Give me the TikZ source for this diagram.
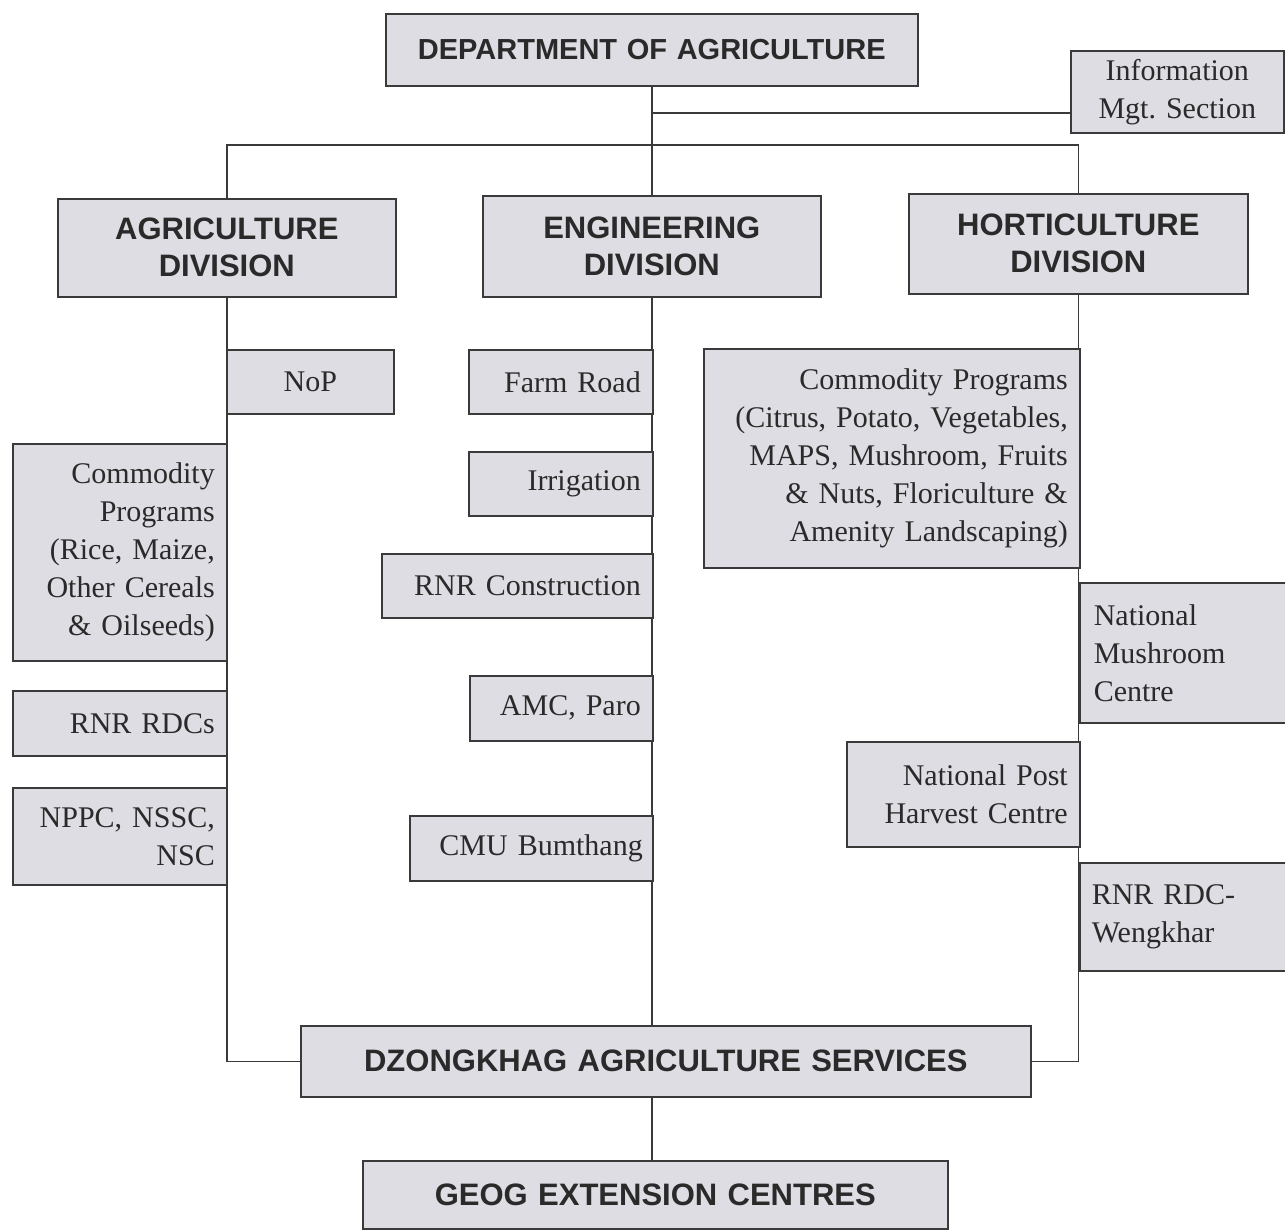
\documentclass[tikz,border=0pt]{standalone}
\usepackage{fontspec}
\setmainfont{Liberation Serif}
\newfontfamily\hdfont{Liberation Sans}
\usetikzlibrary{backgrounds}
\definecolor{boxc}{HTML}{DDDDE3}
\definecolor{linec}{HTML}{3A3A3A}
\definecolor{txtc}{HTML}{2A2A2A}
\frenchspacing
\tikzset{
  box/.style={draw=linec, fill=boxc, line width=1.6pt, anchor=north west,
    inner xsep=12pt, inner ysep=0pt, text=txtc,
    font=\fontsize{30}{38}\selectfont},
  head/.style={box, align=center, inner xsep=6pt,
    font=\hdfont\bfseries\fontsize{31}{37}\selectfont},
  conn/.style={draw=linec, line width=1.5pt}
}
\begin{document}
\begin{tikzpicture}[x=1pt,y=-1pt]
\useasboundingbox (0,0) rectangle (1285,1229);
% headings
\node[head, text width=520pt, minimum height=72pt, font=\hdfont\bfseries\fontsize{29}{35}\selectfont] (dept) at (385,13) {DEPARTMENT OF AGRICULTURE};
\node[box, align=center, inner xsep=4pt, text width=205pt, minimum height=82pt] (info) at (1070,50) {Information\\Mgt. Section};
\node[head, text width=326pt, minimum height=98pt] (agr) at (57,198) {AGRICULTURE\\DIVISION};
\node[head, text width=326pt, minimum height=101pt] (eng) at (482,195) {ENGINEERING\\DIVISION};
\node[head, text width=327pt, minimum height=100pt] (hort) at (908,193) {HORTICULTURE\\DIVISION};
% agriculture
\node[box, align=center, text width=143pt, minimum height=64pt] (nop) at (226,349) {NoP};
\node[box, align=right, text width=190pt, minimum height=217pt] (lcomm) at (12,443) {Commodity\\Programs\\(Rice, Maize,\\Other Cereals\\\& Oilseeds)};
\node[box, align=right, text width=190pt, minimum height=65pt] (rdcs) at (12,690) {RNR RDCs};
\node[box, align=right, text width=190pt, minimum height=97pt] (nppc) at (12,787) {NPPC, NSSC,\\NSC};
% engineering
\node[box, align=right, text width=160pt, minimum height=64pt] (farm) at (468,349) {Farm Road};
\node[box, align=right, text width=160pt, minimum height=64pt] (irr) at (468,451) {Irrigation};
\node[box, align=right, text width=247pt, minimum height=64pt] (rnrc) at (381,553) {RNR Construction};
\node[box, align=right, text width=159pt, minimum height=65pt] (amc) at (469,675) {AMC, Paro};
\node[box, align=right, inner xsep=10pt, text width=223pt, minimum height=65pt] (cmu) at (409,815) {CMU Bumthang};
% horticulture
\node[box, align=right, text width=352pt, minimum height=219pt] (rcomm) at (703,348) {Commodity Programs\\(Citrus, Potato, Vegetables,\\MAPS, Mushroom, Fruits\\\& Nuts, Floriculture \&\\Amenity Landscaping)};
\node[box, align=left, inner xsep=14pt, text width=178pt, minimum height=140pt] (nmc) at (1079,582) {National\\Mushroom\\Centre};
\node[box, align=right, text width=209pt, minimum height=105pt] (nphc) at (846,741) {National Post\\Harvest Centre};
\node[box, align=left, inner xsep=12pt, text width=182pt, minimum height=108pt] (rdcw) at (1079,862) {RNR RDC-\\Wengkhar};
% bottom
\node[head, text width=718pt, minimum height=71pt] (dz) at (300,1025) {DZONGKHAG AGRICULTURE SERVICES};
\node[head, text width=573pt, minimum height=68pt] (geog) at (362,1160) {GEOG EXTENSION CENTRES};
% connectors
\coordinate (j1) at (651,113);
\coordinate (bar) at (651,145);
\begin{pgfonlayer}{background}
\fill[white] (0,0) rectangle (1285,1229);
\draw[conn] (dept.south) -- (eng.north);
\draw[conn] (j1) -- (j1 -| info.west);
\draw[conn] (agr.north) |- (bar) -| (hort.north);
\draw[conn] (agr.south) |- (dz.west);
\draw[conn] (eng.south) -- (eng.south |- dz.north);
\draw[conn] (hort.south) |- (dz.east);
\draw[conn] (dz.south -| eng.south) -- (geog.north -| eng.south);
\end{pgfonlayer}
\end{tikzpicture}
\end{document}
